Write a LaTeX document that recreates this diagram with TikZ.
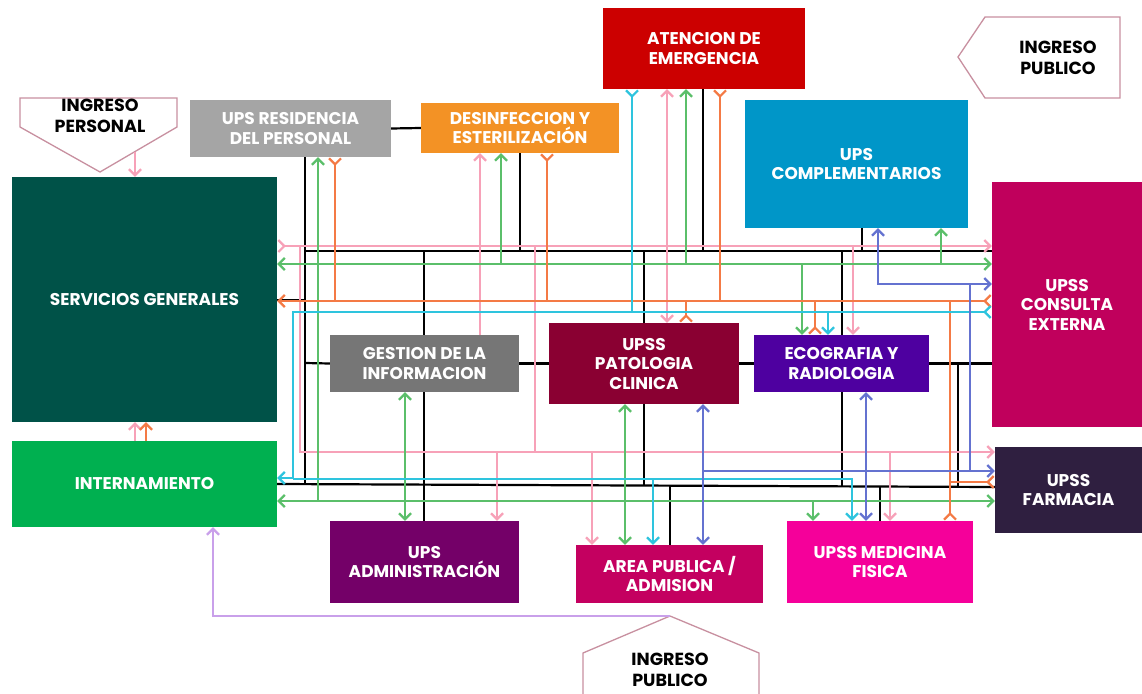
\documentclass[tikz,border=0pt]{standalone}
\usepackage{fontspec}
\setmainfont{Poppins}
\usetikzlibrary{arrows.meta}

\definecolor{cSG}{RGB}{0,82,72}
\definecolor{cInt}{RGB}{0,176,80}
\definecolor{cRes}{RGB}{165,165,165}
\definecolor{cDes}{RGB}{243,146,37}
\definecolor{cAte}{RGB}{204,0,0}
\definecolor{cCom}{RGB}{0,150,200}
\definecolor{cCon}{RGB}{192,0,92}
\definecolor{cGes}{RGB}{118,118,118}
\definecolor{cPat}{RGB}{138,0,50}
\definecolor{cEco}{RGB}{78,0,160}
\definecolor{cFar}{RGB}{47,31,64}
\definecolor{cAdm}{RGB}{116,0,104}
\definecolor{cApu}{RGB}{196,0,96}
\definecolor{cMed}{RGB}{245,0,154}
\definecolor{entryc}{RGB}{200,144,160}
\definecolor{wpk}{RGB}{247,161,184}
\definecolor{wgn}{RGB}{91,191,106}
\definecolor{wor}{RGB}{244,122,69}
\definecolor{wcy}{RGB}{46,196,222}
\definecolor{wbl}{RGB}{100,114,208}
\definecolor{wlv}{RGB}{201,160,234}

\begin{document}
\begin{tikzpicture}[
	x=1pt, y=-1pt,
	box/.style={ fill=#1, text=white, align=center, inner sep=0pt, font=\bfseries\fontsize{17}{19.5}\selectfont },
	sz/.style 2 args={ minimum width=#1pt, minimum height=#2pt },
	inlabel/.style={ align=center, inner sep=0pt, font=\bfseries\fontsize{17.5}{21}\selectfont },
	entry/.style={ draw=entryc, fill=white, line width=1.3pt, line join=miter },
	wire/.style={ line width=2.2pt },
	bk/.style={ wire, black },
	pk/.style={ wire, wpk },
	gn/.style={ wire, wgn },
	or/.style={ wire, wor },
	cy/.style={ wire, wcy },
	bl/.style={ wire, wbl },
	lv/.style={ wire, wlv },
	>={Straight Barb[length=6pt,width=12pt]},
	rb/.tip={Straight Barb[reversed,length=6pt,width=12pt]},
]
\fill[white] (0,0) rectangle (1142,693);
\useasboundingbox (0,0) rectangle (1142,693);

% entradas
\draw[entry] (20,98) -- (177,98) -- (177,127) -- (100,172) -- (20,127) -- cycle;
\draw[entry] (958,57) -- (985,17) -- (1120,17) -- (1120,98) -- (985,98) -- cycle;
\draw[entry] (583,700) -- (583,653) -- (670,616) -- (759,653) -- (759,700);
\node at (100,116) (ipers) [inlabel] {INGRESO\\PERSONAL};
\node at (1058,58) (ipubT) [inlabel] {INGRESO\\PUBLICO};
\node at (670,670) (ipubB) [inlabel] {INGRESO\\PUBLICO};
\coordinate (ipersTip) at (135,152);
\coordinate (ipubTip) at (670,616);

% unidades
\node at (704,48.5) (aten) [box=cAte, sz={202}{81}] {ATENCION DE\\EMERGENCIA};
\node at (290.5,128.5) (resid) [box=cRes, sz={201}{57}] {UPS RESIDENCIA\\DEL PERSONAL};
\node at (520,128) (desin) [box=cDes, sz={198}{50}] {DESINFECCION Y\\ESTERILIZACIÓN};
\node at (856.5,164) (compl) [box=cCom, sz={223}{128}] {UPS\\COMPLEMENTARIOS};
\node at (144.5,299.5) (sg) [box=cSG, sz={265}{245}] {SERVICIOS GENERALES};
\node at (1067,304.5) (ce) [box=cCon, sz={150}{245}] {UPSS\\CONSULTA\\EXTERNA};
\node at (424.5,363.5) (gest) [box=cGes, sz={189}{57}] {GESTION DE LA\\INFORMACION};
\node at (644,363.5) (pato) [box=cPat, sz={190}{81}] {UPSS\\PATOLOGIA\\CLINICA};
\node at (841.5,363.5) (eco) [box=cEco, sz={175}{57}] {ECOGRAFIA Y\\RADIOLOGIA};
\node at (144.5,484) (inter) [box=cInt, sz={265}{86}] {INTERNAMIENTO};
\node at (1068.5,490) (farm) [box=cFar, sz={147}{86}] {UPSS\\FARMACIA};
\node at (424.5,562) (admin) [box=cAdm, sz={189}{82}] {UPS\\ADMINISTRACIÓN};
\node at (669.5,574) (apub) [box=cApu, sz={187}{58}] {AREA PUBLICA /\\ADMISION};
\node at (880,562) (medf) [box=cMed, sz={186}{82}] {UPSS MEDICINA\\FISICA};

% red negra
\draw[bk] (resid.east) -- (desin.west);
\draw[bk] (resid.south -| 305,0) -- (305,484);
\draw[bk] (305,251) -- (ce.west |- 0,251);
\draw[bk] (sg.east |- 0,300) -- (305,300);
\draw[bk] (desin.south) -- (desin.south |- 0,251);
\draw[bk] (aten.south -| 703,0) -- (703,251);
\draw[bk] (compl.south -| 862,0) -- (862,251);
\draw[bk] (424,251) -- (gest.north -| 424,0);
\draw[bk] (gest.south -| 424,0) -- (admin.north -| 424,0);
\draw[bk] (644,251) -- (pato.north -| 644,0);
\draw[bk] (pato.south -| 644,0) -- (644,485);
\draw[bk] (842,251) -- (eco.north -| 842,0);
\draw[bk] (eco.south -| 842,0) -- (842,486);
\draw[bk] (305,363) -- (gest.west);
\draw[bk] (gest.east) -- (pato.west);
\draw[bk] (pato.east) -- (eco.west);
\draw[bk] (eco.east) -- (ce.west |- eco.east);
\draw[bk] (958,363) -- (958,487);
\draw[bk] (inter.east |- 0,484) -- (farm.west |- 0,487);
\draw[bk] (670,486) -- (apub.north -| 670,0);
\draw[bk] (880,487) -- (medf.north -| 880,0);

% rosado
\draw[pk,->] (ipersTip) -- (sg.north -| ipersTip);
\draw[pk,->] (inter.north -| 135,0) -- (sg.south -| 135,0);
\draw[pk,rb->] (sg.east |- 0,246) -- (ce.west |- 0,246);
\draw[pk,->] (300,246) -- (300,452) -- (farm.west |- 0,452);
\draw[pk,->] (gest.north -| 480,0) -- (desin.south -| 480,0);
\draw[pk] (535,246) -- (535,452);
\draw[pk,->] (497,452) -- (admin.north -| 497,0);
\draw[pk,->] (592,452) -- (apub.north -| 592,0);
\draw[pk,<->] (aten.south -| 667,0) -- (pato.north -| 667,0);
\draw[pk,->] (853,246) -- (eco.north -| 853,0);
\draw[pk,->] (890,452) -- (medf.north -| 890,0);

% verde
\draw[gn,->] (318,501) -- (resid.south -| 318,0);
\draw[gn,<->] (inter.east |- 0,501) -- (farm.west |- 0,501);
\draw[gn,<->] (sg.east |- 0,264) -- (ce.west |- 0,264);
\draw[gn,->] (501,264) -- (desin.south -| 501,0);
\draw[gn,->] (686,264) -- (aten.south -| 686,0);
\draw[gn,->] (941,264) -- (compl.south -| 941,0);
\draw[gn,->] (802,264) -- (eco.north -| 802,0);
\draw[gn,<->] (gest.south -| 405,0) -- (admin.north -| 405,0);
\draw[gn,<->] (pato.south -| 625,0) -- (apub.north -| 625,0);
\draw[gn,->] (813,501) -- (medf.north -| 813,0);

% naranja
\draw[or,->] (inter.north -| 146,0) -- (sg.south -| 146,0);
\draw[or,rb-] (resid.south -| 335,0) -- (335,301);
\draw[or,rb->] (ce.west |- 0,301) -- (sg.east |- 0,301);
\draw[or,rb-] (desin.south -| 547,0) -- (547,301);
\draw[or,rb-] (aten.south -| 720,0) -- (720,301);
\draw[or,rb-] (pato.north -| 686,0) -- (686,301);
\draw[or,rb-] (eco.north -| 815,0) -- (815,301);
\draw[or,rb-] (medf.north -| 950,0) -- (950,301);
\draw[or,rb-] (farm.west |- 0,482) -- (950,482);

% celeste
\draw[cy,rb-] (aten.south -| 632,0) -- (632,312);
\draw[cy,rb->] (ce.west |- 0,312) -- (293,312) -- (293,478) -- (inter.east |- 0,478);
\draw[cy,->] (293,479) -- (852,479) -- (medf.north -| 852,0);
\draw[cy,->] (653,479) -- (apub.north -| 653,0);
\draw[cy,->] (828,312) -- (eco.north -| 828,0);

% azul
\draw[bl,<->] (compl.south -| 878,0) |- (ce.west |- 0,284);
\draw[bl] (970,284) -- (970,471);
\draw[bl,->] (703,471) -- (farm.west |- 0,471);
\draw[bl,<->] (pato.south -| 703,0) -- (apub.north -| 703,0);
\draw[bl,<->] (eco.south -| 866,0) -- (medf.north -| 866,0);

% lila
\draw[lv,->] (ipubTip) -| (inter.south -| 213,0);

\end{tikzpicture}
\end{document}
